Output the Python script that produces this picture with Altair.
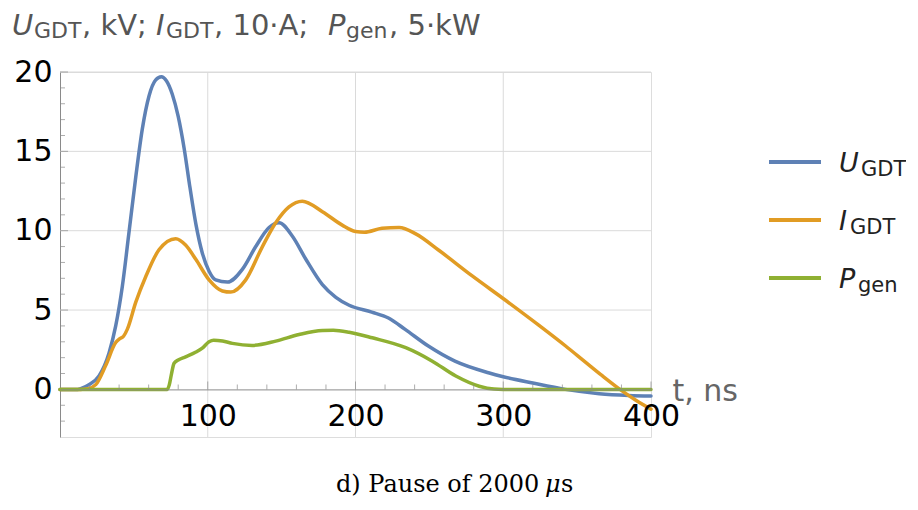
import altair as alt
import pandas as pd

# ---------------- data ----------------
t_u = [0, 12, 14, 19.6, 26.4, 33.2, 37.7, 42.2, 46.7, 51.3, 55.7, 60.3, 64.8, 68.6, 72, 76,
       80, 84, 88, 92, 96.3, 100.9, 105.4, 113.3, 123.4, 132.5, 141.5, 148.3, 157.3, 166.4,
       177.6, 186.7, 195.7, 211, 222.3, 233.6, 249.3, 267.3, 290, 300, 320, 342, 365, 385, 400]
v_u = [0, 0, 0.05, 0.3, 0.85, 2.3, 4.0, 6.5, 9.9, 13.4, 16.4, 18.5, 19.5, 19.7, 19.45, 18.6,
       17.2, 15.2, 12.7, 10.4, 8.6, 7.45, 6.9, 6.76, 7.56, 9.0, 10.2, 10.5, 9.65, 8.2,
       6.6, 5.8, 5.3, 4.87, 4.5, 3.78, 2.73, 1.78, 1.05, 0.8, 0.4, 0.0, -0.27, -0.38, -0.42]

t_i = [0, 14, 19, 24.2, 30.9, 37.7, 40.5, 43, 45.6, 51.3, 58, 67, 78.3, 85, 91.9, 100.9, 109.9,
       115.6, 125.7, 137, 146, 155, 164, 177.6, 191, 200, 206, 218, 229.5, 240.8, 256.6, 279,
       301.8, 324, 342, 355.6, 367, 379, 390, 400]
v_i = [0, 0, 0.05, 0.3, 1.5, 2.95, 3.2, 3.35, 3.8, 5.5, 7.1, 8.8, 9.5, 9.1, 8.2, 6.9, 6.2,
       6.13, 6.9, 9.0, 10.5, 11.5, 11.86, 11.2, 10.35, 9.95, 9.9, 10.15, 10.2, 9.8, 8.75, 7.15,
       5.6, 4.05, 2.75, 1.72, 0.86, 0.0, -0.7, -1.25]

t_p = [0, 72.6, 74, 75.5, 77.2, 80, 85, 92, 96.3, 100.9, 104, 110, 116.7, 130, 146, 161.8,
       177.6, 185, 195.7, 211.4, 234, 252, 267.9, 283.7, 293.7, 300, 400]
v_p = [0, 0, 0.3, 1.0, 1.65, 1.85, 2.05, 2.35, 2.6, 3.0, 3.1, 3.05, 2.9, 2.77, 3.04, 3.46,
       3.71, 3.72, 3.6, 3.25, 2.63, 1.78, 0.84, 0.2, 0.02, 0, 0]

series_keys = ["U", "I", "P"]
series_main = ["U", "I", "P"]
series_sub = ["GDT", "GDT", "gen"]
series_colors = ["#5E81B5", "#E19C24", "#8FB032"]

x_labels = [100, 200, 300, 400]
y_labels = [0, 5, 10, 15, 20]
x_grid = [100, 200, 300]
y_grid = [5, 10, 15, 20]
x_minor = [20, 40, 60, 80, 120, 140, 160, 180, 220, 240, 260, 280, 320, 340, 360, 380]
x_major = [100, 200, 300, 400]
y_minor = [-2, -1, 1, 2, 3, 4, 6, 7, 8, 9, 11, 12, 13, 14, 16, 17, 18, 19]
y_major = [5, 10, 15, 20]

title_parts = [("U", "i"), ("GDT", "s"), (", kV;", "n"), ("I", "i"), ("GDT", "s"),
               (", 10·A;", "n"), ("P", "i"), ("gen", "s"), (", 5·kW", "n")]
x_title = "t, ns"
caption_parts = [("d) Pause of 2000", "n"), ("μ", "i"), ("s", "n")]

# ---------------- layout ----------------
SANS = "DejaVu Sans"
SERIF = "DejaVu Serif"
W, H = 591, 365
PADL, PADT = 52, 64
OX, OY = 8 + PADL, 8 + PADT          # page position of the plot origin
XMIN, XMAX, YMIN, YMAX = 0, 400, -3, 20
AX = "#8a8a8a"
GRID = "#dadada"
TITLE_C = "#555555"

xs = alt.Scale(domain=[XMIN, XMAX], nice=False, zero=False)
ys = alt.Scale(domain=[YMIN, YMAX], nice=False, zero=False)
x_offset = -H * (0 - YMIN) / (YMAX - YMIN)

x_axis = alt.Axis(values=x_labels, grid=False, ticks=False, domainColor=AX, domainWidth=1,
                  offset=x_offset, labelFont=SANS, labelFontSize=30, labelColor="black",
                  labelPadding=12, labelFlush=False, labelOverlap=False, labelBound=False,
                  title=x_title, titleFont=SANS, titleFontSize=30, titleFontWeight="normal",
                  titleColor="#666666", titleAlign="left", titleBaseline="alphabetic",
                  titleAnchor="start", titleX=612, titleY=11, zindex=1)
y_axis = alt.Axis(values=y_labels, grid=False, ticks=False, domainColor=AX, domainWidth=1,
                  labelFont=SANS, labelFontSize=30, labelColor="black", labelPadding=8,
                  labelOverlap=False, labelBound=False, title=None)


def X(field=None, datum=None):
    if datum is not None:
        return alt.X(datum=datum, type="quantitative", scale=xs, axis=x_axis)
    return alt.X(field, type="quantitative", scale=xs, axis=x_axis)


def Y(field=None, datum=None):
    if datum is not None:
        return alt.Y(datum=datum, type="quantitative", scale=ys, axis=y_axis)
    return alt.Y(field, type="quantitative", scale=ys, axis=y_axis)


one = alt.Data(values=[{"k": 0}])

# grid
vgrid = alt.Chart(pd.DataFrame({"t": x_grid})).mark_rule(color=GRID, strokeWidth=1).encode(
    x=X("t"), y=alt.value(0), y2=alt.value(H))
hgrid = alt.Chart(pd.DataFrame({"v": y_grid})).mark_rule(color=GRID, strokeWidth=1).encode(
    y=Y("v"), x=alt.value(0), x2=alt.value(W))

# axis ticks (inside)
xt_min = alt.Chart(pd.DataFrame({"t": x_minor})).mark_tick(
    orient="vertical", size=5, thickness=1, yOffset=-2.5, color=AX).encode(x=X("t"), y=Y(datum=0))
xt_maj = alt.Chart(pd.DataFrame({"t": x_major})).mark_tick(
    orient="vertical", size=8, thickness=1, yOffset=-4, color=AX).encode(x=X("t"), y=Y(datum=0))
yt_min = alt.Chart(pd.DataFrame({"v": y_minor})).mark_tick(
    orient="horizontal", size=5, thickness=1, xOffset=2.5, color=AX).encode(y=Y("v"), x=X(datum=0))
yt_maj = alt.Chart(pd.DataFrame({"v": y_major})).mark_tick(
    orient="horizontal", size=8, thickness=1, xOffset=4, color=AX).encode(y=Y("v"), x=X(datum=0))

# curves
series_t = [t_u, t_i, t_p]
series_v = [v_u, v_i, v_p]
curves = []
for key, tt, vv, col in zip(series_keys, series_t, series_v, series_colors):
    df = pd.DataFrame({"t": tt, "v": vv})
    curves.append(alt.Chart(df).mark_line(strokeWidth=3.5, interpolate="monotone", color=col,
                                          strokeJoin="round", strokeCap="round")
                  .encode(x=X("t"), y=Y("v")))


def txt(s, x, y, size, italic=False, color=TITLE_C, font=SANS):
    kw = dict(align="left", baseline="alphabetic", font=font, fontSize=size, color=color)
    if italic:
        kw["fontStyle"] = "italic"
    return alt.Chart(one).mark_text(**kw).encode(
        x=alt.value(x - OX), y=alt.value(y - OY), text=alt.value(s))


# title
title_x = [12, 34, 82, 156, 166, 214, 328, 346, 389]
texts = []
for (s, kind), xx in zip(title_parts, title_x):
    if kind == "s":
        texts.append(txt(s, xx, 38, 22))
    else:
        texts.append(txt(s, xx, 35, 29, italic=(kind == "i")))

# legend
leg_y = [162, 220, 278]
sub_x = [861, 850, 858]
for main, sub, col, ly, sx in zip(series_main, series_sub, series_colors, leg_y, sub_x):
    texts.append(alt.Chart(one).mark_rule(color=col, strokeWidth=4).encode(
        x=alt.value(769 - OX), x2=alt.value(821 - OX), y=alt.value(ly - OY)))
    texts.append(txt(main, 839, ly + 10, 27, italic=True, color="#222222"))
    texts.append(txt(sub, sx, ly + 14, 21, color="#222222"))

# caption
cap_x = [336, 545, 561]
for (s, kind), xx in zip(caption_parts, cap_x):
    texts.append(txt(s, xx, 492, 24, italic=(kind == "i"), color="black", font=SERIF))

chart = alt.layer(vgrid, hgrid, *curves, xt_min, xt_maj, yt_min, yt_maj, *texts).properties(
    width=W, height=H,
    autosize=alt.AutoSizeParams(type="none"),
    padding={"left": PADL, "top": PADT, "right": 255, "bottom": 64},
).configure_view(stroke=None).configure(background="white")

chart.save("out.html", embed_options={"renderer": "svg", "actions": False})
